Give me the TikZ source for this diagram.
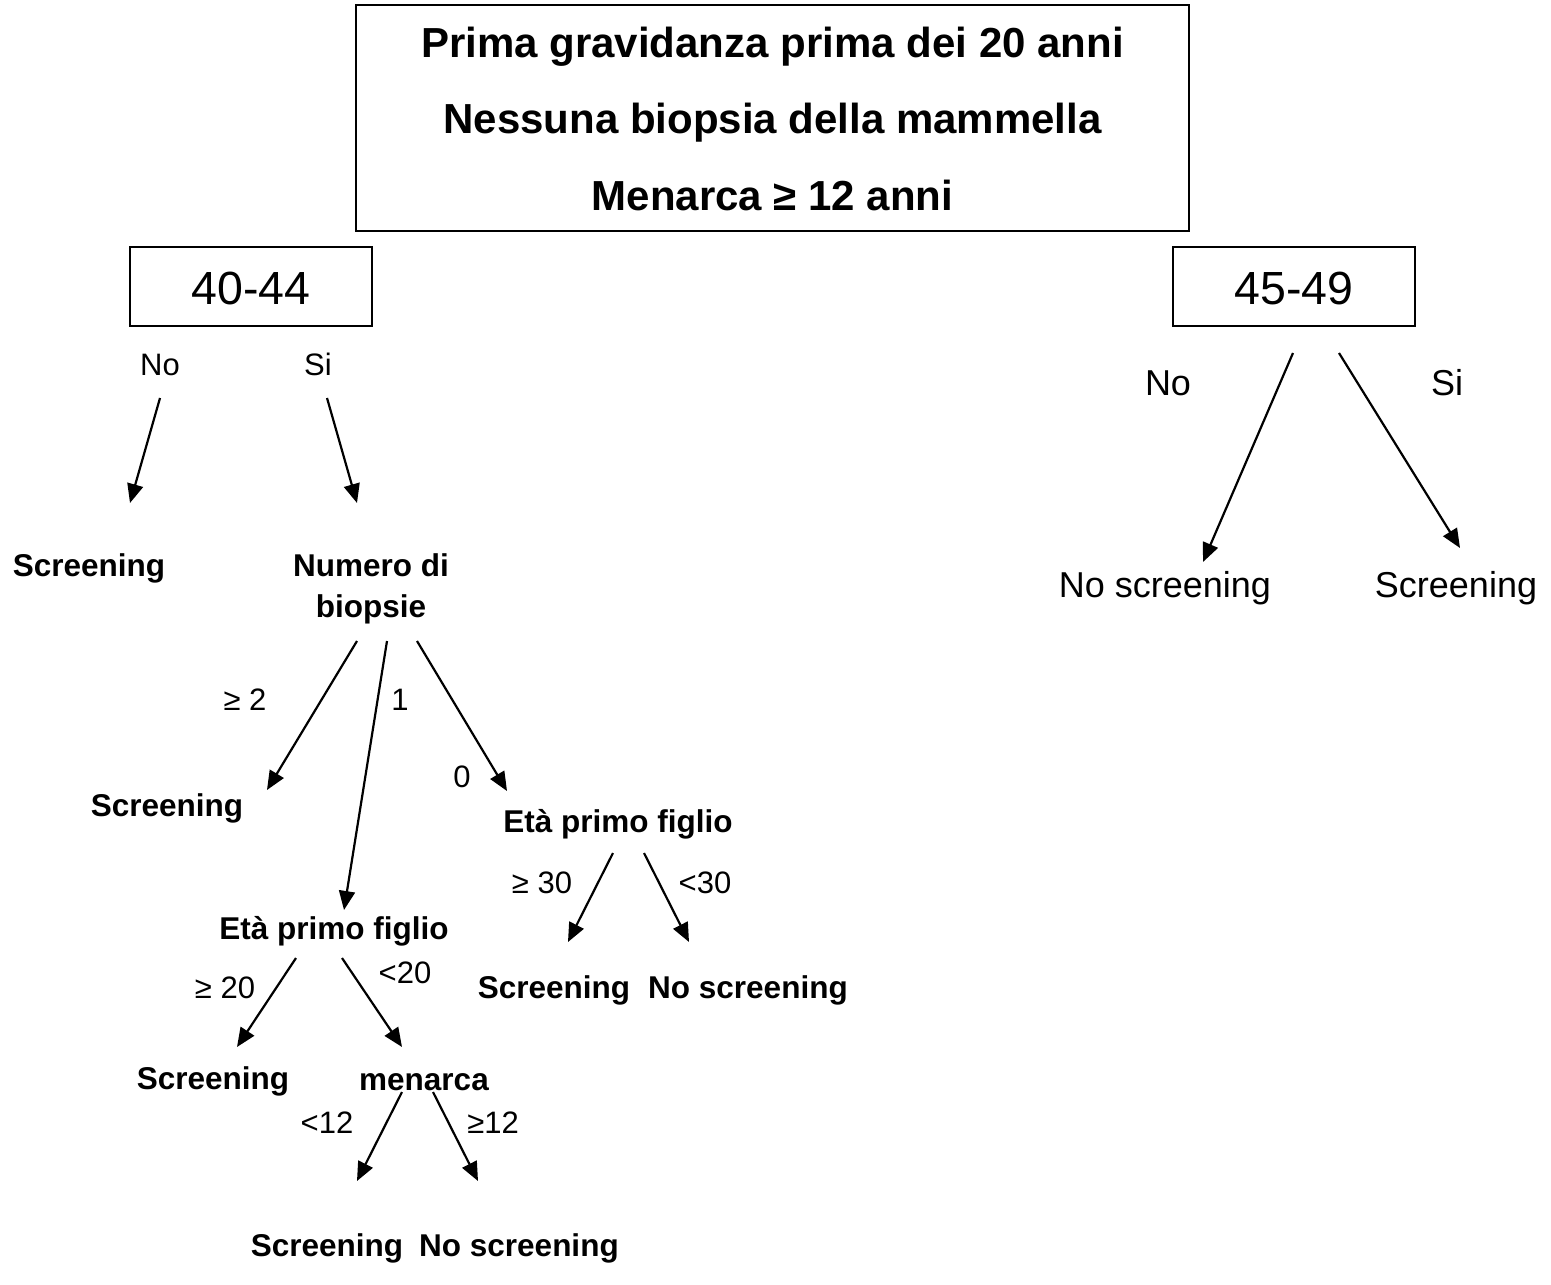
\documentclass[tikz,border=0pt]{standalone}
\usepackage{fontspec}
\setmainfont{Liberation Sans}
\usetikzlibrary{arrows.meta}
\begin{document}
\begin{tikzpicture}[x=1pt,y=-1pt,
  frame/.style={draw, line width=2pt, inner sep=0pt},
  lbl/.style={anchor=base, inner sep=0pt},
  head/.style={lbl, font=\fontsize{42}{50}\selectfont\bfseries},
  age/.style={lbl, font=\fontsize{46.5}{55}\selectfont},
  small/.style={lbl, font=\fontsize{31}{37}\selectfont},
  big/.style={lbl, font=\fontsize{36}{43}\selectfont},
  bold/.style={lbl, font=\fontsize{31.5}{38}\selectfont\bfseries},
  link/.style={line width=2.2pt, -{Triangle[length=19pt,width=16pt]}}
]
\useasboundingbox (0,0) rectangle (1551,1285);

% header box with the common conditions
\node[frame, minimum width=833pt, minimum height=226pt] (titlebox) at (772.5,118) {};
\node[head] (t1) at (772.5,57) {Prima gravidanza prima dei 20 anni};
\node[head] (t2) at (772.5,133) {Nessuna biopsia della mammella};
\node[head] (t3) at (772.5,210) {Menarca ≥ 12 anni};

% age groups
\node[frame, minimum width=242pt, minimum height=79pt] (boxA) at (251,286.5) {};
\node[age] (ageA) at (251,304) {40-44};
\node[frame, minimum width=242pt, minimum height=79pt] (boxB) at (1294,286.5) {};
\node[age] (ageB) at (1294,304) {45-49};

% 40-44 branch
\node[small] (noA) at (160,375) {No};
\node[small] (siA) at (318,375) {Si};
\coordinate (noAs) at (160,398);
\coordinate (noAe) at (130,503);
\coordinate (siAs) at (327,398);
\coordinate (siAe) at (357,503);
\draw[link] (noAs) -- (noAe);
\draw[link] (siAs) -- (siAe);
\node[bold] (scrA) at (89,576) {Screening};
\node[bold] (num1) at (371,576) {Numero di};
\node[bold] (num2) at (371,617) {biopsie};

% number of biopsies
\coordinate (b2s) at (357,641);
\coordinate (b2e) at (267,790);
\coordinate (b1s) at (387,641);
\coordinate (b1e) at (344,910);
\coordinate (b0s) at (417,641);
\coordinate (b0e) at (507,791);
\draw[link] (b2s) -- (b2e);
\draw[link] (b1s) -- (b1e);
\draw[link] (b0s) -- (b0e);
\node[small] (l2) at (245,710) {≥ 2};
\node[small] (l1) at (400,710) {1};
\node[small] (l0) at (462,787) {0};
\node[bold] (scrB) at (167,816) {Screening};

% zero biopsies: age at first child
\node[bold] (etaR) at (618,832) {Età primo figlio};
\coordinate (e30s) at (613,853);
\coordinate (e30e) at (568,942);
\coordinate (e29s) at (644,853);
\coordinate (e29e) at (689,942);
\draw[link] (e30s) -- (e30e);
\draw[link] (e29s) -- (e29e);
\node[small] (g30) at (542,893) {≥ 30};
\node[small] (k30) at (705,893) {<30};
\node[bold] (scrC) at (554,998) {Screening};
\node[bold] (noC) at (748,998) {No screening};

% one biopsy: age at first child
\node[bold] (etaL) at (334,939) {Età primo figlio};
\coordinate (e20s) at (296,958);
\coordinate (e20e) at (237,1047);
\coordinate (e19s) at (342,958);
\coordinate (e19e) at (402,1047);
\draw[link] (e20s) -- (e20e);
\draw[link] (e19s) -- (e19e);
\node[small] (g20) at (225,998) {≥ 20};
\node[small] (k20) at (405,983) {<20};
\node[bold] (scrD) at (213,1089) {Screening};
\node[bold] (men) at (424,1090) {menarca};

% menarche
\coordinate (m11s) at (402,1092);
\coordinate (m11e) at (357,1181);
\coordinate (m12s) at (433,1092);
\coordinate (m12e) at (478,1181);
\draw[link] (m11s) -- (m11e);
\draw[link] (m12s) -- (m12e);
\node[small] (k12) at (327,1133) {<12};
\node[small] (g12) at (493,1133) {≥12};
\node[bold] (scrE) at (327,1256) {Screening};
\node[bold] (noE) at (519,1256) {No screening};

% 45-49 branch
\node[big] (noB) at (1168,395) {No};
\node[big] (siB) at (1447,395) {Si};
\coordinate (noBs) at (1293,353);
\coordinate (noBe) at (1203,562);
\coordinate (siBs) at (1339,353);
\coordinate (siBe) at (1460,548);
\draw[link] (noBs) -- (noBe);
\draw[link] (siBs) -- (siBe);
\node[big] (noscrF) at (1165,597) {No screening};
\node[big] (scrF) at (1456,597) {Screening};
\end{tikzpicture}
\end{document}
